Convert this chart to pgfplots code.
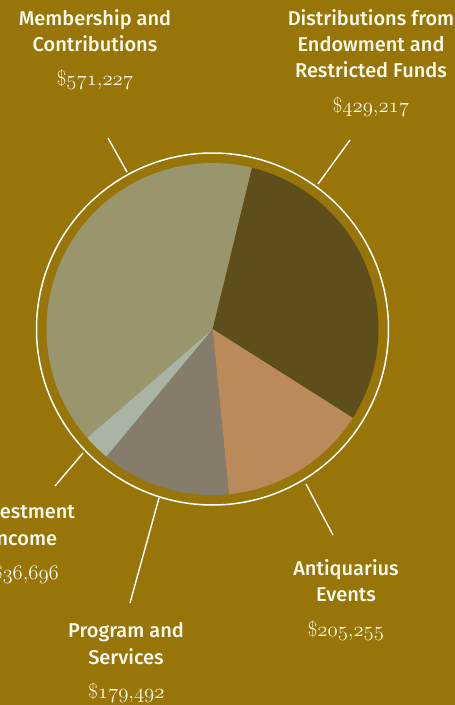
\documentclass[border=0pt]{standalone}
\usepackage{fontspec}
\usepackage{pgfplots}
\usepackage{pgfplotstable}
\pgfplotsset{compat=1.18}
\setmainfont{Fira Sans}[BoldFont={Fira Sans Medium}]

\definecolor{bg}{RGB}{151,117,8}
\definecolor{cMem}{RGB}{153,150,109}
\definecolor{cDist}{RGB}{94,78,28}
\definecolor{cAnt}{RGB}{186,138,91}
\definecolor{cProg}{RGB}{133,124,108}
\definecolor{cInv}{RGB}{169,181,164}
\definecolor{txt}{RGB}{255,250,238}

% revenue by source, clockwise from the top
\pgfplotstableread{
source value
Distributions 429217
Antiquarius 205255
Program 179492
Investment 36696
Membership 571227
}\pie

\pgfplotstablegetelem{0}{value}\of\pie\edef\vA{\pgfplotsretval}
\pgfplotstablegetelem{1}{value}\of\pie\edef\vB{\pgfplotsretval}
\pgfplotstablegetelem{2}{value}\of\pie\edef\vC{\pgfplotsretval}
\pgfplotstablegetelem{3}{value}\of\pie\edef\vD{\pgfplotsretval}
\pgfplotstablegetelem{4}{value}\of\pie\edef\vE{\pgfplotsretval}
\edef\tot{\fpeval{\vA+\vB+\vC+\vD+\vE}}
\edef\aA{76.3}
\edef\aB{\fpeval{round(\aA-360*\vA/\tot,4)}}
\edef\aC{\fpeval{round(\aB-360*\vB/\tot,4)}}
\edef\aD{\fpeval{round(\aC-360*\vC/\tot,4)}}
\edef\aE{\fpeval{round(\aD-360*\vD/\tot,4)}}
\edef\aF{\fpeval{round(\aE-360*\vE/\tot,4)}}

\newcommand\slice[3]{%
  \fill[#1] (0,0) -- ({cos(#2)},{sin(#2)}) arc[start angle=#2, end angle=#3, radius=166pt] -- cycle;}
\newcommand\val[1]{$\mathrm{\$}\mathnormal{#1}$}
\newcommand\labfont{\fontsize{20}{24}\selectfont\bfseries}
\newcommand\valfont{\fontsize{20.5}{24}\selectfont}

\begin{document}
\begin{tikzpicture}
\path[use as bounding box, fill=bg] (-212.5pt,-376pt) rectangle (242.5pt,329pt);
\begin{axis}[
    at={(0,0)}, anchor=center,
    x=166pt, y=166pt,
    xmin=-1.1, xmax=1.1, ymin=-1.1, ymax=1.1,
    hide axis, clip=false,
]
\slice{cDist}{\aA}{\aB}
\slice{cAnt}{\aB}{\aC}
\slice{cProg}{\aC}{\aD}
\slice{cInv}{\aD}{\aE}
\slice{cMem}{\aE}{\aF}
\draw[white, line width=1.5pt] (0,0) circle[radius=176pt];
\end{axis}

\begin{scope}[x=1pt, y=-1pt, shift={(-212.5pt,329pt)}, txt, line width=1.4pt]
\draw[white] (108,138) -- (127,172);
\draw[white] (350,140) -- (318,184);
\draw[white] (55,486) -- (83,453);
\draw[white] (130,603) -- (159,498);
\draw[white] (333,535) -- (306,484);

\node[anchor=base, font=\labfont] at (95,25) {Membership and};
\node[anchor=base, font=\labfont] at (95,51) {Contributions};
\node[anchor=base, font=\valfont] at (95,85) {\val{571{,}227}};

\node[anchor=base, font=\labfont] at (371,25) {Distributions from};
\node[anchor=base, font=\labfont] at (371,51) {Endowment and};
\node[anchor=base, font=\labfont] at (371,77.5) {Restricted Funds};
\node[anchor=base, font=\valfont] at (371,112) {\val{429{,}217}};

\node[anchor=base east, font=\labfont] at (79,518) {Investment};
\node[anchor=base east, font=\labfont] at (61,545) {Income};
\node[anchor=base east, font=\valfont] at (63,579) {\val{36{,}696}};

\node[anchor=base, font=\labfont] at (126,637) {Program and};
\node[anchor=base, font=\labfont] at (126,664) {Services};
\node[anchor=base, font=\valfont] at (126.5,698) {\val{179{,}492}};

\node[anchor=base, font=\labfont] at (346,575) {Antiquarius};
\node[anchor=base, font=\labfont] at (346,601) {Events};
\node[anchor=base, font=\valfont] at (346,636) {\val{205{,}255}};
\end{scope}
\end{tikzpicture}
\end{document}
